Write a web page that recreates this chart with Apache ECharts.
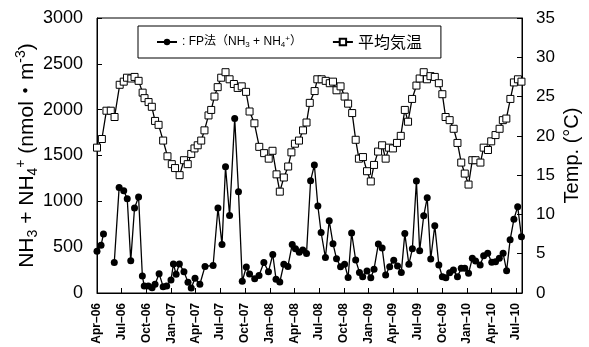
<!DOCTYPE html>
<html>
<head>
<meta charset="utf-8">
<script src="https://cdn.jsdelivr.net/npm/echarts@6/dist/echarts.min.js"></script>
<style>
  html, body { margin: 0; padding: 0; background: #fff; }
  #chart { width: 589px; height: 347px; }
</style>
</head>
<body>
<div id="chart"></div>
<script>
// FP法 (NH3 + NH4+) nmol/m3, null = no sample
var fpDates = [
  '2006-04-01','2006-04-16','2006-04-25','2006-05-15','2006-06-04','2006-06-22','2006-07-09','2006-07-22',
  '2006-08-04','2006-08-18','2006-09-02','2006-09-16','2006-09-23','2006-10-08','2006-10-22','2006-11-02',
  '2006-11-17','2006-12-02','2006-12-15','2006-12-31','2007-01-09','2007-01-19','2007-01-31','2007-02-17',
  '2007-03-04','2007-03-16','2007-03-30','2007-04-17','2007-05-06','2007-06-05','2007-06-23','2007-07-08',
  '2007-07-21','2007-08-05','2007-08-24','2007-09-07','2007-09-21','2007-10-06','2007-10-18','2007-11-06',
  '2007-11-22','2007-12-10','2007-12-27','2008-01-12','2008-01-24','2008-02-07','2008-02-22','2008-03-08',
  '2008-03-24','2008-04-05','2008-04-19','2008-05-02','2008-05-16','2008-05-31','2008-06-14','2008-06-27',
  '2008-07-09','2008-07-25','2008-08-08','2008-08-22','2008-09-04','2008-09-19','2008-10-04','2008-10-17',
  '2008-10-30','2008-11-14','2008-11-28','2008-12-10','2008-12-26','2009-01-09','2009-01-21','2009-02-06',
  '2009-02-20','2009-03-05','2009-03-20','2009-04-04','2009-04-18','2009-05-02','2009-05-15','2009-05-30',
  '2009-06-12','2009-06-27','2009-07-09','2009-07-24','2009-08-06','2009-08-19','2009-09-03','2009-09-18',
  '2009-10-01','2009-10-14','2009-10-28','2009-11-11','2009-11-26','2009-12-10','2009-12-23','2010-01-06',
  '2010-01-20','2010-02-01','2010-02-18','2010-03-03','2010-03-18','2010-04-02','2010-04-16','2010-04-30',
  '2010-05-14','2010-05-27','2010-06-09','2010-06-23','2010-07-07','2010-07-21'
];
var fpValues = [
  455, 520, 644, null, 333, 1150, 1116, 1028,
  353, 928, 1048, 185, 76, 76, 58, 95,
  211, 69, 76, 142, 316, 205, 316, 233,
  118, 55, 160, 95, 290, 300, 928, 528,
  1378, 845, 1905, 1105, 128, 284, 207, 155,
  190, 333, 233, 420, 151, 120, 315, 290,
  530, 482, 445, 469, 430, 1225, 1396, 949,
  660, 387, 789, 538, 375, 287, 315, 169,
  655, 360, 225, 178, 240, 167, 260, 535,
  490, 196, 287, 358, 294, 225, 648, 313,
  482, 1222, 462, 842, 1040, 372, 735, 305,
  178, 167, 222, 251, 178, 269, 269, 215,
  378, 349, 305, 407, 433, 335, 341, 378,
  433, 243, 580, 804, 942, 614
];

// 平均気温 (°C)
var tempDates = [
  '2006-04-01','2006-04-19','2006-05-06','2006-05-22','2006-06-05','2006-06-24','2006-07-09','2006-07-21',
  '2006-08-06','2006-08-18','2006-09-02','2006-09-17','2006-09-24','2006-10-09','2006-10-21','2006-11-02',
  '2006-11-15','2006-12-02','2006-12-18','2007-01-03','2007-01-15','2007-02-01','2007-02-17','2007-03-03',
  '2007-03-16','2007-03-28','2007-04-09','2007-04-22','2007-05-04','2007-05-19','2007-05-29','2007-06-10',
  '2007-06-22','2007-07-05','2007-07-21','2007-08-05','2007-08-21','2007-09-04','2007-09-19','2007-10-05',
  '2007-10-18','2007-11-05','2007-11-23','2007-12-11','2007-12-28','2008-01-11','2008-01-26','2008-02-07',
  '2008-02-22','2008-03-09','2008-03-21','2008-04-03','2008-04-18','2008-05-03','2008-05-16','2008-05-28',
  '2008-06-15','2008-06-25','2008-07-11','2008-07-26','2008-08-10','2008-08-22','2008-09-04','2008-09-19',
  '2008-10-04','2008-10-17','2008-11-01','2008-11-14','2008-11-26','2008-12-11','2008-12-26','2009-01-09',
  '2009-01-21','2009-02-05','2009-02-20','2009-03-05','2009-03-17','2009-04-01','2009-04-16','2009-04-30',
  '2009-05-15','2009-05-27','2009-06-11','2009-06-27','2009-07-09','2009-07-24','2009-08-05','2009-08-18',
  '2009-09-03','2009-09-18','2009-10-01','2009-10-13','2009-10-28','2009-11-12','2009-11-26','2009-12-10',
  '2009-12-23','2010-01-06','2010-01-20','2010-02-01','2010-02-19','2010-03-03','2010-03-19','2010-03-31',
  '2010-04-16','2010-05-01','2010-05-13','2010-05-26','2010-06-10','2010-06-23','2010-07-08','2010-07-21'
];
var tempValues = [
  18.5, 19.6, 23.2, 23.2, 22.4, 26.5, 26.9, 27.4,
  27.3, 27.5, 27.0, 25.5, 24.8, 24.3, 23.7, 21.9,
  21.4, 19.4, 17.4, 16.4, 15.9, 15.0, 16.9, 16.4,
  17.7, 18.4, 18.8, 19.4, 20.7, 22.6, 23.3, 25.0,
  26.2, 27.4, 28.1, 27.2, 26.6, 26.1, 26.3, 25.6,
  23.1, 21.6, 18.6, 17.8, 17.1, 18.1, 15.1, 12.9,
  14.7, 16.1, 17.9, 19.0, 19.4, 20.7, 21.7, 24.2,
  25.7, 27.2, 27.2, 27.0, 26.7, 26.9, 25.8, 26.3,
  25.0, 24.1, 22.9, 19.5, 17.1, 17.3, 15.5, 14.2,
  16.3, 18.0, 18.8, 17.1, 18.5, 18.4, 19.1, 20.0,
  23.3, 21.8, 24.7, 26.4, 27.3, 28.1, 27.2, 27.6,
  27.5, 26.7, 25.3, 22.4, 22.0, 20.9, 19.1, 16.6,
  15.2, 13.8, 16.9, 16.9, 16.6, 18.5, 18.2, 19.3,
  20.1, 20.9, 22.0, 22.2, 24.7, 26.8, 27.2, 26.9
];

// quarterly tick positions
var tickDates = [
  '2006-04-01','2006-07-01','2006-10-01','2007-01-01','2007-04-01','2007-07-01','2007-10-01',
  '2008-01-01','2008-04-01','2008-07-01','2008-10-01','2009-01-01','2009-04-01','2009-07-01',
  '2009-10-01','2010-01-01','2010-04-01','2010-07-01'
];
var monthNames = ['Jan','Feb','Mar','Apr','May','Jun','Jul','Aug','Sep','Oct','Nov','Dec'];

var latin = "'Liberation Sans', Arial, sans-serif";
var cjk = "'Liberation Sans', 'Noto Sans CJK JP', sans-serif";

function toTime(s) {
  var p = s.split('-');
  return new Date(+p[0], +p[1] - 1, +p[2]).getTime();
}
function zip(dates, vals) {
  var out = [];
  for (var i = 0; i < dates.length; i++) {
    out.push([toTime(dates[i]), vals[i] == null ? '-' : vals[i]]);
  }
  return out;
}
var ticks = tickDates.map(toTime);

var chart = echarts.init(document.getElementById('chart'));

var option = {
  backgroundColor: '#fff',
  animation: false,
  grid: {
    left: 97, right: 67, top: 18, bottom: 54,
    show: true, borderColor: '#000', borderWidth: 1,
    outerBoundsMode: 'none'
  },
  legend: {
    left: 138, top: 26,
    padding: [8, 19, 8, 18],
    itemGap: 30,
    itemWidth: 20,
    itemHeight: 8,
    backgroundColor: '#fff',
    borderColor: '#000',
    borderWidth: 1,
    borderRadius: 0,
    data: ['FP', '平均気温'],
    formatter: function (name) {
      if (name === 'FP') {
        return '{a|: FP法（NH}{sub|3}{a| + NH}{sub|4}{sup|+}{a|）}';
      }
      return '{b|平均気温}';
    },
    textStyle: {
      color: '#000',
      rich: {
        a: { fontSize: 12, fontFamily: cjk, color: '#000' },
        sub: { fontSize: 8, fontFamily: latin, color: '#000', verticalAlign: 'bottom', lineHeight: 14 },
        sup: { fontSize: 8, fontFamily: latin, color: '#000', verticalAlign: 'top', lineHeight: 14 },
        b: { fontSize: 16, fontFamily: "'Noto Sans CJK JP', sans-serif", color: '#000' }
      }
    }
  },
  xAxis: {
    type: 'value',
    min: toTime('2006-04-01'),
    max: toTime('2010-07-23'),
    splitLine: { show: false },
    axisLine: { lineStyle: { color: '#000', width: 1 } },
    axisTick: { inside: true, length: 5, lineStyle: { color: '#000' }, customValues: ticks },
    axisLabel: {
      customValues: ticks,
      rotate: 90,
      margin: 10,
      fontSize: 12,
      fontWeight: 'bold',
      fontFamily: latin,
      color: '#000',
      formatter: function (v) {
        var d = new Date(v);
        var yy = String(d.getFullYear() % 100);
        if (yy.length < 2) yy = '0' + yy;
        return monthNames[d.getMonth()] + '–' + yy;
      }
    }
  },
  yAxis: [
    {
      type: 'value',
      min: 0, max: 3000, interval: 500,
      name: '{t|NH}{s|3}{t| + NH}{s|4}{p|+}{t| (nmol・m}{p|-3}{t|)}',
      nameLocation: 'middle',
      nameRotate: 90,
      nameGap: 57,
      nameMoveOverlap: false,
      nameTextStyle: {
        color: '#000',
        rich: {
          t: { fontSize: 21, fontFamily: cjk, color: '#000' },
          s: { fontSize: 14, fontFamily: latin, color: '#000', verticalAlign: 'bottom', lineHeight: 26 },
          p: { fontSize: 14, fontFamily: latin, color: '#000', verticalAlign: 'top', lineHeight: 26 }
        }
      },
      splitLine: { show: false },
      axisLine: { show: true, lineStyle: { color: '#000' } },
      axisTick: { show: true, inside: true, length: 5, lineStyle: { color: '#000' } },
      axisLabel: {
        fontSize: 18, fontFamily: latin, color: '#000', margin: 14,
        formatter: function (v) { return String(v); }
      }
    },
    {
      type: 'value',
      min: 0, max: 35, interval: 5,
      position: 'right',
      name: 'Temp. (°C)',
      nameLocation: 'middle',
      nameRotate: 90,
      nameGap: 40,
      nameMoveOverlap: false,
      nameTextStyle: { fontSize: 20, fontFamily: latin, color: '#000' },
      splitLine: { show: false },
      axisLine: { show: true, lineStyle: { color: '#000' } },
      axisTick: { show: true, inside: true, length: 5, lineStyle: { color: '#000' } },
      axisLabel: { fontSize: 17, fontFamily: latin, color: '#000', margin: 14 }
    }
  ],
  series: [
    {
      name: 'FP',
      type: 'line',
      yAxisIndex: 0,
      data: zip(fpDates, fpValues),
      connectNulls: false,
      symbol: 'circle',
      symbolSize: 7,
      showAllSymbol: true,
      lineStyle: { color: '#000', width: 1.3 },
      itemStyle: { color: '#000', borderColor: '#000', borderWidth: 0 },
      z: 3
    },
    {
      name: '平均気温',
      type: 'line',
      yAxisIndex: 1,
      data: zip(tempDates, tempValues),
      symbol: 'rect',
      symbolSize: 7,
      showAllSymbol: true,
      lineStyle: { color: '#000', width: 1.3 },
      itemStyle: { color: '#fff', borderColor: '#000', borderWidth: 1 },
      z: 2
    }
  ]
};

chart.setOption(option);
</script>
</body>
</html>
